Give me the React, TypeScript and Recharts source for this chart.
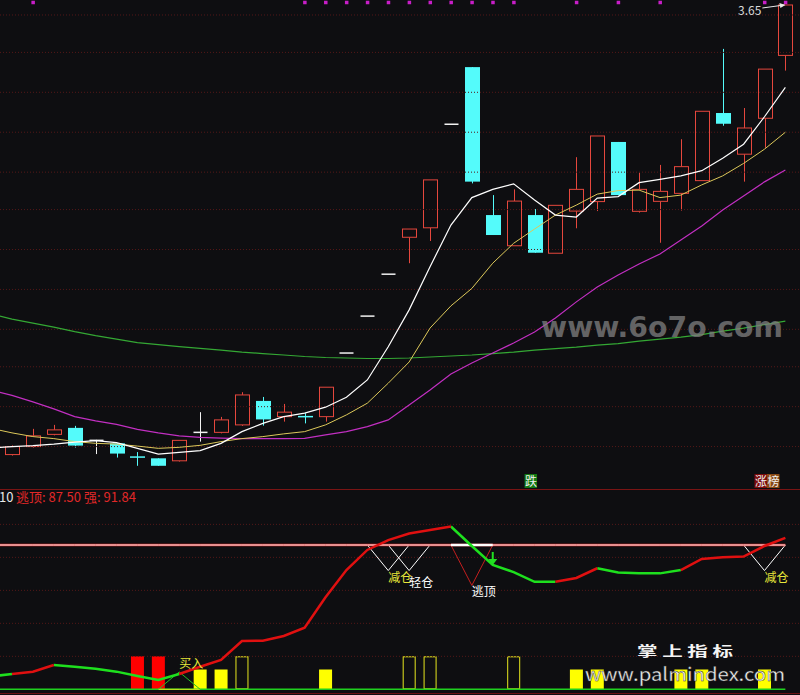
import React from 'react';
import { ComposedChart, Bar, Line, Scatter, XAxis, YAxis, ReferenceLine } from 'recharts';

const FONT = '"Noto Sans CJK SC", "Noto Sans", sans-serif';
const BG = '#0e0e11';
const GRID = '#541818';
const UP = '#e5473d';
const DOWN = '#54fbfb';
const FLAT = '#f2f2f2';
const YEL = '#e8e83a';

// candles, day 0..37
const opens = [1.848, 1.880, 1.929, 1.955, 1.905, 1.893, 1.841, 1.833, 1.823, 1.937, 1.937, 1.967, 2.063, 2.000, 2.003, 2.000, 2.255, 2.403, 2.571, 2.719, 2.757, 3.172, 3.401, 2.808, 2.685, 2.808, 2.655, 2.824, 2.862, 3.101, 2.823, 2.863, 2.895, 2.946, 3.217, 3.052, 3.196, 3.448];
const closes = [1.880, 1.923, 1.947, 1.884, 1.905, 1.852, 1.838, 1.803, 1.905, 1.937, 1.987, 2.087, 1.989, 2.018, 1.997, 2.118, 2.255, 2.403, 2.571, 2.752, 2.949, 3.172, 2.942, 2.728, 2.864, 2.657, 2.847, 2.911, 3.125, 2.888, 2.911, 2.903, 3.002, 3.224, 3.174, 3.157, 3.393, 3.650];
const highs = [1.885, 1.951, 1.967, 1.963, 1.907, 1.893, 1.858, 1.833, 1.905, 2.018, 1.999, 2.098, 2.079, 2.051, 2.014, 2.118, 2.255, 2.403, 2.571, 2.752, 2.949, 3.172, 3.401, 2.888, 2.911, 2.832, 2.847, 3.040, 3.125, 3.101, 2.978, 3.009, 3.112, 3.224, 3.474, 3.237, 3.393, 3.650];
const lows = [1.844, 1.876, 1.925, 1.876, 1.850, 1.836, 1.803, 1.803, 1.820, 1.900, 1.933, 1.963, 1.964, 1.980, 1.973, 1.980, 2.255, 2.403, 2.571, 2.615, 2.704, 3.172, 2.935, 2.728, 2.685, 2.657, 2.655, 2.755, 2.824, 2.888, 2.818, 2.697, 2.826, 2.946, 3.166, 2.942, 3.078, 3.387];

// moving averages, day -1..37 (day -1 is just off the left edge)
const ma5 = [1.874, 1.880, 1.884, 1.890, 1.898, 1.904, 1.896, 1.873, 1.850, 1.857, 1.864, 1.893, 1.940, 1.973, 2.000, 2.014, 2.038, 2.078, 2.147, 2.280, 2.428, 2.601, 2.768, 2.878, 2.911, 2.933, 2.868, 2.808, 2.800, 2.876, 2.882, 2.938, 2.951, 2.965, 2.986, 3.036, 3.092, 3.202, 3.320];
const ma10 = [1.953, 1.935, 1.920, 1.912, 1.900, 1.893, 1.890, 1.882, 1.873, 1.877, 1.885, 1.900, 1.912, 1.920, 1.931, 1.940, 1.967, 2.007, 2.054, 2.134, 2.219, 2.355, 2.444, 2.514, 2.615, 2.695, 2.752, 2.808, 2.848, 2.892, 2.906, 2.908, 2.878, 2.888, 2.929, 2.965, 3.015, 3.072, 3.140];
const ma20 = [2.107, 2.085, 2.059, 2.031, 2.000, 1.983, 1.969, 1.949, 1.935, 1.923, 1.917, 1.914, 1.912, 1.912, 1.912, 1.913, 1.927, 1.940, 1.960, 1.987, 2.047, 2.107, 2.171, 2.215, 2.255, 2.295, 2.339, 2.395, 2.460, 2.520, 2.568, 2.612, 2.652, 2.708, 2.764, 2.828, 2.884, 2.941, 2.989];
const ma60 = [2.411, 2.391, 2.375, 2.359, 2.341, 2.325, 2.311, 2.297, 2.289, 2.281, 2.274, 2.267, 2.259, 2.253, 2.247, 2.241, 2.237, 2.235, 2.233, 2.233, 2.235, 2.239, 2.243, 2.247, 2.253, 2.259, 2.267, 2.273, 2.279, 2.287, 2.293, 2.303, 2.311, 2.319, 2.329, 2.343, 2.355, 2.369, 2.383];

const markDays = [1, 14, 15, 16, 17, 18, 19, 20, 21, 22, 23, 24, 27, 29, 31, 36, 37];
const tagDays = [25, 36];
const tagTexts = ['跌', '涨榜'];
const tagColors = [['#137a13'], ['#7d0c0c', '#8a4a16']];

const priceGrid = [3.61, 3.46, 3.30, 3.14, 2.98, 2.83, 2.67, 2.51, 2.35, 2.20, 2.04, 1.88];
const PRICE_DOMAIN = [1.71, 3.67];
const MARK_LEVEL = 3.661;
const TAG_LEVEL = 1.742;
const X_DOMAIN = [-0.574, 37.7];

// lower panel, day -1..37
const strength = [7.8, 9.3, 10.7, 14.7, 13.7, 12.5, 10.7, 8.1, 5.6, 9.3, 13.7, 17.8, 29.3, 29.5, 32.3, 37.4, 55.8, 72.3, 84.5, 90.5, 94.5, 96.6, 98.7, 86.9, 75.4, 71.1, 65.2, 65.2, 67.5, 73.4, 70.8, 70.3, 70.3, 72.3, 79.0, 80.0, 80.5, 86.9, 91.84];
// 1 = segment ending on this day is drawn red, 0 = green
const strengthRising = [0, 0, 1, 1, 0, 0, 0, 0, 0, 0, 1, 1, 1, 1, 1, 1, 1, 1, 1, 1, 1, 1, 1, 0, 0, 0, 0, 0, 1, 1, 0, 0, 0, 0, 1, 1, 1, 1, 1];
const ESCAPE_LEVEL = 87.5;
const V_DEPTH = 72;
const ESC_DEPTH = 63;
const BUY_PEAK = 10.5;
const reduceDays = [18, 36];
const lightDays = [19];
const escapeDays = [22];
const buyDays = [8];
const arrowDays = [23];
const redBarDays = [6, 7];
const fullBarDays = [9, 10, 15, 27, 28, 32, 33, 36];
const hollowBarDays = [11, 19, 20, 24];
const RED_BAR = 20;
const FULL_BAR = 12;
const HOLLOW_BAR = 20;
const subGrid = [100, 80, 60, 40, 20];
const SUB_DOMAIN = [-3.46, 121.46];

const days = ma5.map((_, k) => k - 1);

const mainData = days.map((d, k) => ({
  i: d,
  open: d >= 0 ? opens[d] : null,
  close: d >= 0 ? closes[d] : null,
  high: d >= 0 ? highs[d] : null,
  low: d >= 0 ? lows[d] : null,
  ma5: ma5[k],
  ma10: ma10[k],
  ma20: ma20[k],
  ma60: ma60[k],
}));

const markData = markDays.map((d) => ({ i: d, v: MARK_LEVEL }));
const tagData = tagDays.map((d, n) => ({ i: d, v: TAG_LEVEL, text: tagTexts[n], colors: tagColors[n] }));
const topHigh = Math.max(...highs);
const topData = [{ i: highs.indexOf(topHigh), v: topHigh }];

function vValue(list: number[], d: number, depth: number) {
  if (list.includes(d)) return depth;
  if (list.includes(d - 1) || list.includes(d + 1)) return ESCAPE_LEVEL;
  return null;
}

const subData = days.map((d, k) => {
  const v = strength[k];
  const n = days.length;
  const redHere = k > 0 && strengthRising[k] === 1;
  const redNext = k + 1 < n && strengthRising[k + 1] === 1;
  const greenHere = k > 0 && strengthRising[k] === 0;
  const greenNext = k + 1 < n && strengthRising[k + 1] === 0;
  let sig = null;
  let kind = null;
  if (redBarDays.includes(d)) { sig = RED_BAR; kind = 'red'; }
  else if (fullBarDays.includes(d)) { sig = FULL_BAR; kind = 'full'; }
  else if (hollowBarDays.includes(d)) { sig = HOLLOW_BAR; kind = 'hollow'; }
  const nearBuy = buyDays.some((b) => Math.abs(b - d) <= 1);
  return {
    i: d,
    strRed: redHere || redNext ? v : null,
    strGreen: greenHere || greenNext ? v : null,
    zero: 0,
    escape: ESCAPE_LEVEL,
    vReduce: vValue(reduceDays, d, V_DEPTH),
    vLight: vValue(lightDays, d, V_DEPTH),
    vEscape: vValue(escapeDays, d, ESC_DEPTH),
    escTop: escapeDays.some((s) => Math.abs(d - s) <= 1) ? ESCAPE_LEVEL : null,
    buyTri: nearBuy ? (buyDays.includes(d) ? BUY_PEAK : 0) : null,
    buyBase: nearBuy ? 0 : null,
    sig,
    kind,
  };
});

const subTags = [
  ...reduceDays.map((d) => ({ i: d, v: V_DEPTH, text: '减仓', color: YEL, dy: 11 })),
  ...lightDays.map((d) => ({ i: d, v: V_DEPTH, text: '轻仓', color: '#ffffff', dy: 16 })),
  ...escapeDays.map((d) => ({ i: d, v: ESC_DEPTH, text: '逃顶', color: '#ffffff', dy: 11 })),
  ...buyDays.map((d) => ({ i: d, v: BUY_PEAK + 9, text: '买入', color: YEL, dy: 11 })),
];
const arrowData = arrowDays.map((d) => ({ i: d, v: strength[d + 1] }));

function Candle(props: any) {
  const { x, y, width, height, payload } = props;
  if (!payload || payload.open == null || x == null || y == null || isNaN(y)) return null;
  const { open, close, high, low } = payload;
  const top = Math.min(y, y + (height || 0));
  const bottom = Math.max(y, y + (height || 0));
  const span = high - low;
  const toY = (v: number) => (span > 0 ? top + ((high - v) / span) * (bottom - top) : top);
  const cx = Math.round(x + width / 2) + 0.5;
  const half = 7;
  if (close > open) {
    const bt = toY(close);
    const bb = toY(open);
    return (
      <g>
        <line x1={cx} x2={cx} y1={toY(high)} y2={bt} stroke={UP} />
        <line x1={cx} x2={cx} y1={bb} y2={toY(low)} stroke={UP} />
        <rect x={cx - half} y={bt} width={half * 2} height={Math.max(bb - bt, 1)} fill={BG} stroke={UP} />
      </g>
    );
  }
  if (close < open) {
    const bt = toY(open);
    const bb = toY(close);
    return (
      <g>
        <line x1={cx} x2={cx} y1={toY(high)} y2={toY(low)} stroke={DOWN} />
        <rect x={cx - half - 0.5} y={bt} width={half * 2 + 1} height={Math.max(bb - bt, 1.5)} fill={DOWN} />
      </g>
    );
  }
  const yo = toY(open);
  return (
    <g>
      <line x1={cx} x2={cx} y1={toY(high)} y2={toY(low)} stroke={FLAT} />
      <line x1={cx - half} x2={cx + half} y1={yo} y2={yo} stroke={FLAT} strokeWidth={1.5} />
    </g>
  );
}

function MarkSquare(props: any) {
  const { cx, cy } = props;
  if (cx == null || cy == null) return null;
  return <rect x={cx - 1.5} y={cy - 1.5} width={3.5} height={3.5} fill="#c81ec8" />;
}

function Tag(props: any) {
  const { cx, cy, payload } = props;
  if (cx == null || !payload) return null;
  const chars = Array.from(payload.text as string);
  const left = cx - 10;
  return (
    <g>
      {chars.map((ch, n) => (
        <g key={n}>
          <rect x={left + n * 12.5} y={cy - 7} width={12.5} height={14} fill={payload.colors[n] || payload.colors[0]} />
          <text x={left + n * 12.5 + 0.5} y={cy + 5} fontSize={12} fill="#f0f0f0" fontFamily={FONT}>{ch}</text>
        </g>
      ))}
    </g>
  );
}

function TopNote(props: any) {
  const { cx, cy, payload } = props;
  if (cx == null || !payload) return null;
  const x1 = cx - 23;
  const y1 = cy + 3;
  return (
    <g>
      <line x1={x1} y1={y1} x2={cx - 1} y2={cy} stroke="#e8e8e8" />
      <path d={`M ${cx} ${cy} L ${cx - 6} ${cy - 2} L ${cx - 5} ${cy + 3} Z`} fill="#e8e8e8" />
      <text x={x1 - 1} y={cy + 10} textAnchor="end" fontSize={12} fill="#d8d8d8" fontFamily={FONT}>
        {payload.v.toFixed(2)}
      </text>
    </g>
  );
}

function SignalBar(props: any) {
  const { x, y, width, height, payload } = props;
  if (!payload || payload.sig == null || x == null || isNaN(y)) return null;
  const top = Math.min(y, y + height);
  const h = Math.abs(height);
  if (payload.kind === 'hollow') {
    return <rect x={x + 0.5} y={top + 0.5} width={width - 1} height={h - 1} fill="none" stroke="#e6e61e" />;
  }
  return <rect x={x} y={top} width={width} height={h} fill={payload.kind === 'red' ? '#ff0000' : '#ffff00'} />;
}

function SubTag(props: any) {
  const { cx, cy, payload } = props;
  if (cx == null || !payload) return null;
  return (
    <text x={cx} y={cy + payload.dy} fontSize={12} fill={payload.color} fontFamily={FONT}>
      {payload.text}
    </text>
  );
}

function Arrow(props: any) {
  const { cx, cy } = props;
  if (cx == null) return null;
  return (
    <g>
      <line x1={cx} x2={cx} y1={cy - 13} y2={cy - 4} stroke="#22e022" strokeWidth={2} />
      <path d={`M ${cx - 4.5} ${cy - 6} L ${cx + 4.5} ${cy - 6} L ${cx} ${cy} Z`} fill="#22e022" />
    </g>
  );
}

export default function App() {
  const noAnim = { isAnimationActive: false } as const;
  return (
    <div style={{ position: 'absolute', left: 0, top: 0, width: 800, height: 695, background: BG, overflow: 'hidden', fontFamily: FONT }}>
      <div style={{ position: 'absolute', left: 0, top: 0 }}>
        <ComposedChart width={800} height={489} data={mainData} margin={{ top: 0, right: 0, bottom: 0, left: 0 }}>
          <XAxis type="number" dataKey="i" domain={X_DOMAIN} hide allowDataOverflow />
          <YAxis type="number" domain={PRICE_DOMAIN} hide allowDataOverflow />
          {priceGrid.map((p) => (
            <ReferenceLine key={p} y={p} stroke={GRID} strokeDasharray="1 2" />
          ))}
          <Line dataKey="ma60" stroke="#34a834" strokeWidth={1.2} dot={false} {...noAnim} />
          <Line dataKey="ma20" stroke="#c22fc2" strokeWidth={1.2} dot={false} {...noAnim} />
          <Bar dataKey={(d: any) => (d.open == null ? null : [d.low, d.high])} barSize={15} shape={Candle} {...noAnim} />
          <Line dataKey="ma10" stroke="#dcc85a" strokeWidth={1} dot={false} {...noAnim} />
          <Line dataKey="ma5" stroke="#ffffff" strokeWidth={1.2} dot={false} {...noAnim} />
          <Scatter data={markData} dataKey="v" shape={MarkSquare} {...noAnim} />
          <Scatter data={tagData} dataKey="v" shape={Tag} {...noAnim} />
          <Scatter data={topData} dataKey="v" shape={TopNote} {...noAnim} />
        </ComposedChart>
      </div>
      <div style={{ position: 'absolute', left: 0, top: 489 }}>
        <ComposedChart width={800} height={206} data={subData} margin={{ top: 0, right: 0, bottom: 0, left: 0 }}>
          <XAxis type="number" dataKey="i" domain={X_DOMAIN} hide allowDataOverflow />
          <YAxis type="number" domain={SUB_DOMAIN} hide allowDataOverflow />
          {subGrid.map((g) => (
            <ReferenceLine key={g} y={g} stroke={GRID} strokeDasharray="1 2" />
          ))}
          <Line dataKey="zero" stroke="#1fd01f" strokeWidth={1.5} dot={false} {...noAnim} />
          <Line dataKey="buyBase" stroke="#e6e61e" strokeWidth={1} dot={false} {...noAnim} />
          <Line dataKey="buyTri" stroke="#22c022" strokeWidth={1} dot={false} {...noAnim} />
          <Bar dataKey="sig" barSize={13} shape={SignalBar} {...noAnim} />
          <Line dataKey="vReduce" stroke="#ffffff" strokeWidth={1} dot={false} {...noAnim} />
          <Line dataKey="vLight" stroke="#ffffff" strokeWidth={1} dot={false} {...noAnim} />
          <Line dataKey="vEscape" stroke="#c41e1e" strokeWidth={1} dot={false} {...noAnim} />
          <Line dataKey="escape" stroke="#d42020" strokeWidth={2.4} dot={false} {...noAnim} />
          <Line dataKey="escape" stroke="#ffffff" strokeWidth={1} dot={false} {...noAnim} />
          <Line dataKey="escTop" stroke="#ffffff" strokeWidth={2.5} dot={false} {...noAnim} />
          <Line dataKey="strGreen" stroke="#1ee01e" strokeWidth={2.5} dot={false} {...noAnim} />
          <Line dataKey="strRed" stroke="#e01010" strokeWidth={2.5} dot={false} {...noAnim} />
          <Scatter data={subTags} dataKey="v" shape={SubTag} {...noAnim} />
          <Scatter data={arrowData} dataKey="v" shape={Arrow} {...noAnim} />
        </ComposedChart>
      </div>
      <div style={{ position: 'absolute', left: 0, top: 489, width: 800, height: 1, background: '#7a1414' }} />
      <div style={{ position: 'absolute', left: 0, top: 693, width: 800, height: 1, background: '#6a1212' }} />
      <svg width={800} height={695} style={{ position: 'absolute', left: 0, top: 0, pointerEvents: 'none' }}>
        <text x={-1} y={502} fontSize={13} fontFamily={FONT}>
          <tspan fill="#e8e8e8">10</tspan>
          <tspan x={16} fill="#e02828">{`逃顶: ${ESCAPE_LEVEL.toFixed(2)} 强: ${strength[strength.length - 1].toFixed(2)}`}</tspan>
        </text>
        <text x={541} y={337} fontSize={29} fontWeight="bold" fontFamily="DejaVu Sans" fill="#808080" opacity={0.75} textLength={242} lengthAdjust="spacingAndGlyphs">
          www.6o7o.com
        </text>
        <text x={637} y={656} fontSize={13.5} fontWeight="bold" fontFamily={FONT} fill="#f4f4f4" textLength={96} lengthAdjust="spacingAndGlyphs">
          掌 上 指 标
        </text>
        <text x={585} y={681} fontSize={18.5} fontFamily={FONT} fill="#f4f4f4" stroke="#333" strokeWidth={0.4} textLength={200} lengthAdjust="spacingAndGlyphs">
          www.palmindex.com
        </text>
      </svg>
    </div>
  );
}
